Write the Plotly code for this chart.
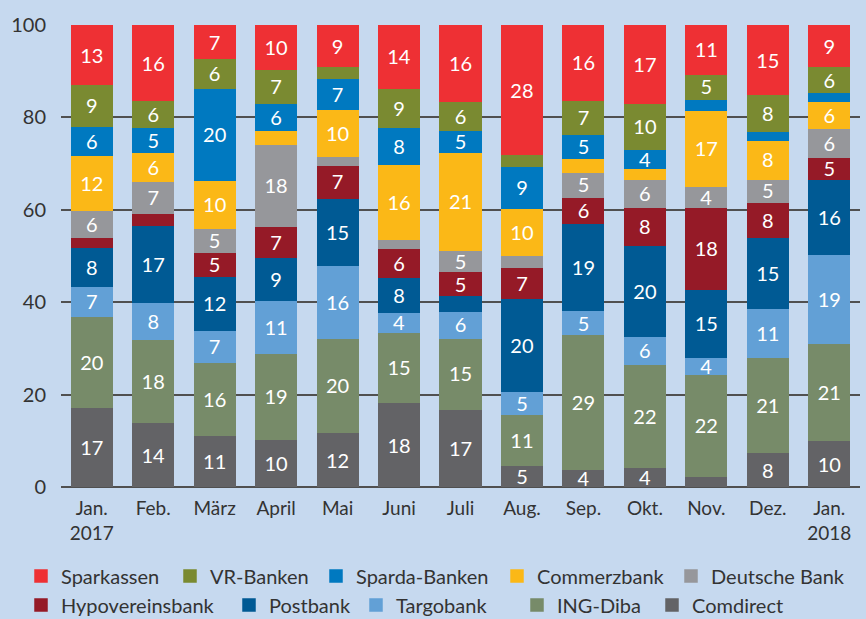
import plotly.graph_objects as go

months = ["Jan.<br>2017", "Feb.", "März", "April", "Mai", "Juni", "Juli",
          "Aug.", "Sep.", "Okt.", "Nov.", "Dez.", "Jan.<br>2018"]

# stacked from bottom to top
comdirect   = [17.2, 14.0, 11.1, 10.3, 11.9, 18.3, 16.9, 4.7, 3.8, 4.3, 2.3, 7.5, 10.1]
ing_diba    = [19.7, 18.0, 16.0, 18.7, 20.3, 15.2, 15.4, 11.0, 29.2, 22.3, 22.1, 20.6, 21.1]
targobank   = [6.6, 8.0, 6.9, 11.4, 15.7, 4.3, 5.8, 5.0, 5.2, 6.1, 3.6, 10.6, 19.1]
postbank    = [8.3, 16.6, 11.7, 9.4, 14.7, 7.6, 3.3, 20.2, 18.8, 19.6, 14.9, 15.4, 16.4]
hypo        = [2.2, 2.7, 5.2, 6.6, 7.1, 6.3, 5.2, 6.6, 5.8, 8.2, 17.7, 7.6, 4.6]
deutsche    = [5.8, 6.9, 5.2, 17.8, 1.9, 1.9, 4.6, 2.6, 5.4, 6.1, 4.4, 5.0, 6.3]
commerz     = [12.1, 6.3, 10.4, 3.0, 10.2, 16.2, 21.2, 10.2, 3.0, 2.4, 16.6, 8.4, 5.8]
sparda      = [6.1, 5.4, 19.9, 5.8, 6.6, 8.0, 4.8, 9.1, 5.2, 4.1, 2.4, 1.9, 2.0]
vr_banken   = [9.2, 5.8, 6.3, 7.4, 2.7, 8.6, 6.4, 2.6, 7.4, 10.0, 5.4, 8.0, 5.6]
sparkassen  = [12.8, 16.3, 7.3, 9.6, 8.9, 13.6, 16.4, 28.0, 16.2, 16.9, 10.6, 15.0, 9.0]

# (name, values, colour, legend row, pixel x of the legend swatch)
series = [
    ("Comdirect", comdirect, "#636366", 1, 666),
    ("ING-Diba", ing_diba, "#778b69", 1, 531),
    ("Targobank", targobank, "#62a0d6", 1, 370),
    ("Postbank", postbank, "#005a94", 1, 243),
    ("Hypovereinsbank", hypo, "#951a27", 1, 35),
    ("Deutsche Bank", deutsche, "#96979b", 0, 685),
    ("Commerzbank", commerz, "#fbb817", 0, 511),
    ("Sparda-Banken", sparda, "#0079c0", 0, 330),
    ("VR-Banken", vr_banken, "#7a8a31", 0, 184),
    ("Sparkassen", sparkassen, "#ee3034", 0, 35),
]

FONT = "Lato, 'Noto Sans', sans-serif"
BG = "#c6d9ef"
W, H = 866, 619
ROW_Y = [576, 605]


def label(v):
    return str(int(v + 0.5)) if v >= 3.5 else ""


fig = go.Figure()
legends = {}
for i, (name, vals, color, row, px) in enumerate(series):
    key = "legend" if i == 0 else f"legend{i + 1}"
    fig.add_trace(go.Bar(
        x=months, y=vals, name=name,
        marker=dict(color=color, line=dict(width=1.5, color=color)),
        text=[label(v) for v in vals],
        textposition="inside", insidetextanchor="middle", textangle=0,
        textfont=dict(color="white", size=20, family=FONT),
        legend=key, hoverinfo="skip",
    ))
    legends[key] = dict(
        orientation="h", xref="container", yref="container",
        x=(px - 14) / W, y=1 - ROW_Y[row] / H, xanchor="left", yanchor="middle",
        font=dict(size=20, color="#333333"), bgcolor="rgba(0,0,0,0)",
    )

fig.update_layout(
    barmode="stack",
    bargap=0.34,
    width=W, height=H,
    paper_bgcolor=BG, plot_bgcolor=BG,
    margin=dict(l=61, r=6, t=25, b=132, autoexpand=False),
    font=dict(family=FONT, color="#333333"),
    uniformtext=dict(minsize=20, mode="show"),
    showlegend=True,
    **legends,
)
fig.update_yaxes(range=[0, 100], dtick=20, showgrid=True, gridcolor="#505050", gridwidth=1.5,
                 zeroline=True, zerolinecolor="#505050", zerolinewidth=2,
                 tickfont=dict(size=20, color="#333333"), ticks="", ticklabelstandoff=14,
                 showline=False)
fig.update_xaxes(tickfont=dict(size=19, color="#333333"), showgrid=False, ticks="",
                 ticklabelstandoff=8)

fig.write_html("out.html")
